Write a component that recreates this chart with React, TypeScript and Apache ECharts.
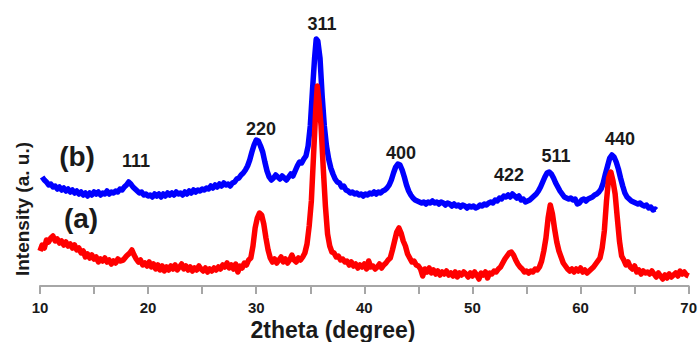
import React, { useEffect, useRef } from "react";
import * as echarts from "echarts";

// 2theta (degree), relative intensity (a. u.)
const seriesA: [number, number][] = [
  [10.0,35],[10.2,41],[10.4,38],[10.6,46],[10.8,44],[11.0,48],[11.2,50],[11.4,45],[11.6,47],[11.8,43],[12.0,45],[12.2,41],[12.4,44],[12.6,40],[12.8,42],[13.0,38],[13.2,41],[13.4,36],[13.6,38],[13.8,33],[14.0,35],[14.2,29],[14.4,32],[14.6,28],[14.8,31],[15.0,27],[15.2,29],[15.4,24],[15.6,27],[15.8,25],[16.0,28],[16.2,24],[16.4,26],[16.6,22],[16.8,25],[17.0,23],[17.2,27],[17.4,25],[17.7,26],[18.0,30],[18.3,33],[18.5,36],[18.7,31],[18.9,27],[19.1,24],[19.3,26],[19.5,21],[19.7,23],[19.9,20],[20.1,24],[20.3,19],[20.5,22],[20.7,17],[20.9,21],[21.1,16],[21.3,20],[21.5,15],[21.7,19],[21.9,16],[22.1,20],[22.3,17],[22.5,21],[22.7,16],[22.9,19],[23.1,22],[23.3,17],[23.5,20],[23.7,16],[23.9,19],[24.1,15],[24.3,18],[24.5,16],[24.7,20],[24.9,17],[25.1,15],[25.3,18],[25.5,14],[25.7,17],[25.9,15],[26.1,18],[26.3,16],[26.5,19],[26.7,17],[26.9,21],[27.1,19],[27.3,23],[27.5,18],[27.7,21],[27.9,17],[28.1,22],[28.3,14],[28.5,20],[28.7,18],[28.9,23],[29.1,21],[29.3,26],[29.5,28],[29.7,40],[29.9,58],[30.1,68],[30.3,73],[30.5,71],[30.7,62],[30.9,48],[31.1,36],[31.3,28],[31.5,24],[31.7,27],[31.9,23],[32.1,26],[32.3,29],[32.5,24],[32.7,27],[32.9,23],[33.1,26],[33.3,31],[33.5,26],[33.7,24],[33.9,28],[34.1,26],[34.3,29],[34.5,33],[34.7,42],[34.9,60],[35.1,85],[35.3,130],[35.5,175],[35.65,200],[35.8,185],[36.0,160],[36.2,118],[36.4,80],[36.6,52],[36.8,40],[37.0,34],[37.2,33],[37.4,29],[37.6,30],[37.8,26],[38.0,27],[38.2,24],[38.4,25],[38.6,21],[38.8,24],[39.0,20],[39.2,22],[39.4,18],[39.6,21],[39.8,19],[40.0,22],[40.2,17],[40.4,25],[40.6,19],[40.8,20],[41.0,17],[41.2,19],[41.4,22],[41.6,18],[41.8,21],[42.0,23],[42.2,26],[42.4,28],[42.6,36],[42.8,45],[43.0,54],[43.2,58],[43.4,53],[43.6,45],[43.8,40],[44.0,32],[44.2,28],[44.4,24],[44.6,25],[44.8,21],[45.0,20],[45.2,17],[45.4,10],[45.6,17],[45.8,14],[46.0,18],[46.2,13],[46.4,16],[46.6,12],[46.8,15],[47.0,11],[47.2,14],[47.4,12],[47.6,15],[47.8,11],[48.0,13],[48.2,10],[48.4,14],[48.6,9],[48.8,13],[49.0,11],[49.2,14],[49.4,12],[49.6,9],[49.8,13],[50.0,10],[50.2,14],[50.4,11],[50.6,7],[50.8,13],[51.0,11],[51.2,14],[51.4,8],[51.6,13],[51.8,12],[52.0,15],[52.2,14],[52.4,17],[52.6,19],[52.8,23],[53.0,27],[53.2,30],[53.4,33],[53.6,34],[53.8,31],[54.0,26],[54.2,22],[54.4,19],[54.6,17],[54.8,14],[55.0,15],[55.2,13],[55.4,15],[55.6,14],[55.8,17],[56.0,16],[56.2,19],[56.4,25],[56.6,35],[56.8,48],[57.0,68],[57.2,81],[57.4,72],[57.6,57],[57.8,44],[58.0,35],[58.2,29],[58.4,23],[58.6,20],[58.8,17],[59.0,15],[59.2,17],[59.4,14],[59.6,17],[59.8,15],[60.0,18],[60.2,14],[60.4,16],[60.6,13],[60.8,15],[61.0,17],[61.2,19],[61.4,22],[61.6,25],[61.8,28],[62.0,38],[62.2,55],[62.4,85],[62.6,108],[62.8,114],[63.0,105],[63.2,92],[63.4,68],[63.6,45],[63.8,30],[64.0,26],[64.2,21],[64.4,24],[64.6,19],[64.8,17],[65.0,20],[65.2,14],[65.4,16],[65.6,12],[65.8,15],[66.0,13],[66.2,14],[66.4,12],[66.6,15],[66.8,12],[67.0,9],[67.2,13],[67.4,10],[67.6,7],[67.8,11],[68.0,8],[68.2,12],[68.4,9],[68.6,11],[68.8,13],[69.0,10],[69.2,15],[69.4,12],[69.6,14],[69.8,11],[70.0,10]
];

const seriesB: [number, number][] = [
  [10.2,109],[10.4,106],[10.6,104],[10.8,101],[11.0,102],[11.2,99],[11.4,100],[11.6,97],[11.8,99],[12.0,96],[12.2,98],[12.4,95],[12.6,97],[12.8,94],[13.0,96],[13.2,93],[13.4,95],[13.6,92],[13.8,94],[14.0,91],[14.2,93],[14.4,90],[14.6,93],[14.8,91],[15.0,94],[15.2,92],[15.4,94],[15.6,91],[15.8,93],[16.0,92],[16.2,95],[16.4,92],[16.6,94],[16.8,93],[17.0,95],[17.2,94],[17.4,97],[17.6,96],[17.8,99],[18.0,101],[18.2,104],[18.4,102],[18.6,99],[18.8,97],[19.0,95],[19.2,93],[19.4,94],[19.6,91],[19.8,92],[20.0,90],[20.2,91],[20.4,89],[20.6,92],[20.8,90],[21.0,92],[21.2,89],[21.4,92],[21.6,90],[21.8,93],[22.0,91],[22.2,93],[22.4,91],[22.6,94],[22.8,92],[23.0,93],[23.2,91],[23.4,94],[23.6,92],[23.8,95],[24.0,93],[24.2,96],[24.4,94],[24.6,96],[24.8,95],[25.0,97],[25.2,96],[25.4,98],[25.6,97],[25.8,100],[26.0,98],[26.2,101],[26.4,99],[26.6,102],[26.8,100],[27.0,103],[27.2,101],[27.4,102],[27.6,100],[27.8,103],[28.0,104],[28.2,107],[28.4,108],[28.6,111],[28.8,113],[29.0,116],[29.2,120],[29.4,126],[29.6,134],[29.8,141],[30.0,146],[30.2,145],[30.4,140],[30.6,134],[30.8,124],[31.0,115],[31.2,109],[31.4,106],[31.6,108],[31.8,111],[32.0,109],[32.2,107],[32.4,110],[32.6,108],[32.8,106],[33.0,109],[33.2,112],[33.4,110],[33.6,115],[33.8,120],[34.0,124],[34.2,123],[34.4,127],[34.6,130],[34.8,140],[35.0,160],[35.2,195],[35.4,228],[35.55,247],[35.7,245],[35.9,228],[36.1,190],[36.3,160],[36.5,140],[36.7,127],[36.9,118],[37.1,112],[37.3,107],[37.5,104],[37.7,103],[37.9,99],[38.1,100],[38.3,96],[38.5,95],[38.7,93],[38.9,94],[39.1,92],[39.3,93],[39.5,91],[39.7,92],[39.9,90],[40.1,92],[40.3,91],[40.5,93],[40.7,92],[40.9,94],[41.1,92],[41.3,94],[41.5,93],[41.7,95],[41.9,96],[42.1,98],[42.3,101],[42.5,106],[42.7,113],[42.9,119],[43.1,122],[43.3,121],[43.5,116],[43.7,109],[43.9,101],[44.1,95],[44.3,91],[44.5,88],[44.7,86],[44.9,85],[45.1,84],[45.3,83],[45.5,84],[45.7,82],[45.9,84],[46.1,83],[46.3,85],[46.5,83],[46.7,84],[46.9,82],[47.1,84],[47.3,83],[47.5,81],[47.7,83],[47.9,82],[48.1,80],[48.3,82],[48.5,80],[48.7,81],[48.9,79],[49.1,81],[49.3,80],[49.5,78],[49.7,80],[49.9,79],[50.1,80],[50.3,78],[50.5,79],[50.7,81],[50.9,80],[51.1,82],[51.3,81],[51.5,83],[51.7,84],[51.9,83],[52.1,86],[52.3,85],[52.5,88],[52.7,87],[52.9,90],[53.1,89],[53.3,91],[53.5,89],[53.7,92],[53.9,90],[54.1,88],[54.3,90],[54.5,86],[54.7,87],[54.9,84],[55.1,85],[55.3,86],[55.5,88],[55.7,90],[55.9,92],[56.1,95],[56.3,99],[56.5,104],[56.7,109],[56.9,113],[57.1,114],[57.3,112],[57.5,108],[57.7,103],[57.9,99],[58.1,95],[58.3,92],[58.5,89],[58.7,88],[58.9,87],[59.1,88],[59.3,86],[59.5,87],[59.7,82],[59.9,83],[60.1,86],[60.3,87],[60.5,85],[60.7,87],[60.9,88],[61.1,89],[61.3,91],[61.5,92],[61.7,94],[61.9,97],[62.1,103],[62.3,112],[62.5,120],[62.7,128],[62.9,131],[63.1,129],[63.3,124],[63.5,117],[63.7,108],[63.9,100],[64.1,93],[64.3,89],[64.5,87],[64.7,85],[64.9,84],[65.1,83],[65.3,82],[65.5,83],[65.7,81],[65.9,80],[66.1,81],[66.3,78],[66.5,79],[66.7,76],[66.9,77],[67.0,76]
];

const xTicks = [10, 20, 30, 40, 50, 60, 70];
const peakLabels = ["111", "220", "311", "400", "422", "511", "440"];
const sampleLabels = ["(a)", "(b)"];
const xAxisTitle = "2theta (degree)";
const yAxisTitle = "Intensity (a. u.)";

export default function App() {
  const ref = useRef<HTMLDivElement>(null);
  useEffect(() => {
    if (!ref.current) return;
    const chart = echarts.init(ref.current, null, { renderer: "svg" });
    const font = "'Liberation Sans', Arial, sans-serif";
    const peakPos: [number, number][] = [
      [136, 161], [261, 129], [322, 24], [401, 153], [509, 175], [556, 156], [620, 139]
    ];
    const textStyle = (size: number) => ({
      fill: "#1a1a1a",
      fontFamily: font,
      fontWeight: "bold",
      fontSize: size,
      align: "center",
      verticalAlign: "middle",
    });
    chart.setOption({
      animation: false,
      backgroundColor: "#ffffff",
      grid: { left: 40, right: 10, top: 30, bottom: 56 },
      xAxis: {
        type: "value",
        min: xTicks[0],
        max: xTicks[xTicks.length - 1],
        interval: 10,
        axisLine: { show: true, lineStyle: { color: "#a6a6a6", width: 2 } },
        axisTick: { show: true, length: 8, lineStyle: { color: "#a6a6a6", width: 2 } },
        minorTick: { show: true, splitNumber: 2, length: 8, lineStyle: { color: "#a6a6a6", width: 2 } },
        splitLine: { show: false },
        axisLabel: {
          margin: 14,
          color: "#1a1a1a",
          fontFamily: font,
          fontWeight: "bold",
          fontSize: 15,
        },
      },
      yAxis: { type: "value", min: 0, max: 256, show: false },
      graphic: [
        ...peakLabels.map((t, i) => ({
          type: "text",
          x: peakPos[i][0],
          y: peakPos[i][1],
          style: { ...textStyle(18), text: t },
        })),
        { type: "text", x: 81, y: 218, style: { ...textStyle(28), text: sampleLabels[0] } },
        { type: "text", x: 77, y: 156, style: { ...textStyle(28), text: sampleLabels[1] } },
        { type: "text", x: 333, y: 330, style: { ...textStyle(23), text: xAxisTitle } },
        {
          type: "text",
          x: 22,
          y: 209,
          rotation: Math.PI / 2,
          style: { ...textStyle(19), text: yAxisTitle },
        },
      ],
      series: [
        {
          type: "line",
          data: seriesA,
          showSymbol: false,
          lineStyle: { color: "#ff0000", width: 5.5, join: "round" },
          z: 2,
        },
        {
          type: "line",
          data: seriesB,
          showSymbol: false,
          lineStyle: { color: "#0000ff", width: 5.5, join: "round" },
          z: 1,
        },
      ],
    });
    return () => chart.dispose();
  }, []);
  return (
    <div
      ref={ref}
      style={{ position: "fixed", left: 0, top: 0, width: 700, height: 342 }}
    />
  );
}
